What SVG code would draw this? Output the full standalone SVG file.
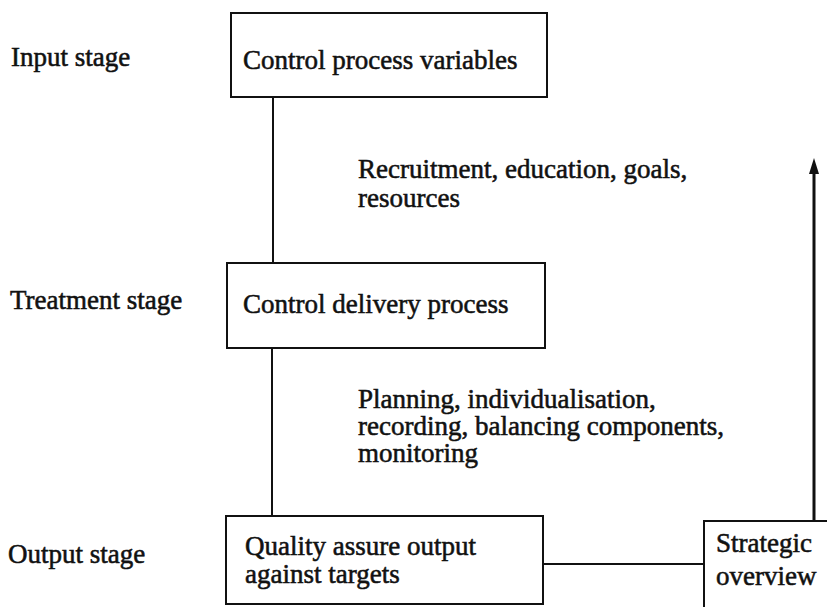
<svg xmlns="http://www.w3.org/2000/svg" width="827" height="607" viewBox="0 0 827 607">
  <style>
    text { font-family: "Liberation Serif", "Times New Roman", serif; font-size: 27px; fill: #111; stroke: #111; stroke-width: 0.55px; }
    .box { fill: #fff; stroke: #111; stroke-width: 2; }
    .link { fill: none; stroke: #111; stroke-width: 2; }
    .up { fill: none; stroke: #111; stroke-width: 3; }
  </style>

  <!-- stage labels -->
  <g id="stage-labels">
    <text x="11" y="66">Input stage</text>
    <text x="10" y="309">Treatment stage</text>
    <text x="8" y="563">Output stage</text>
  </g>

  <!-- connectors -->
  <g id="connectors">
    <line class="link" x1="273" y1="97" x2="273" y2="263"/>
    <line class="link" x1="272" y1="348" x2="272" y2="516"/>
    <line class="link" x1="543" y1="564" x2="704" y2="564"/>
    <line class="up" x1="814" y1="521" x2="814" y2="172"/>
    <path d="M814,158 L819,174 L809,174 Z" fill="#111"/>
  </g>

  <g id="node-input">
    <rect class="box" x="231" y="13" width="316" height="84"/>
    <text x="243" y="69">Control process variables</text>
  </g>

  <g id="label-input">
    <text x="358" y="178">Recruitment, education, goals,</text>
    <text x="358" y="207">resources</text>
  </g>

  <g id="node-treatment">
    <rect class="box" x="227" y="263" width="318" height="85"/>
    <text x="243" y="313">Control delivery process</text>
  </g>

  <g id="label-treatment">
    <text x="358" y="408">Planning, individualisation,</text>
    <text x="358" y="435">recording, balancing components,</text>
    <text x="358" y="462">monitoring</text>
  </g>

  <g id="node-output">
    <rect class="box" x="226" y="516" width="317" height="88"/>
    <text x="245" y="555">Quality assure output</text>
    <text x="245" y="583">against targets</text>
  </g>

  <g id="node-strategic">
    <rect class="box" x="704" y="521" width="130" height="100"/>
    <text x="716" y="552">Strategic</text>
    <text x="716" y="585">overview</text>
  </g>
</svg>
